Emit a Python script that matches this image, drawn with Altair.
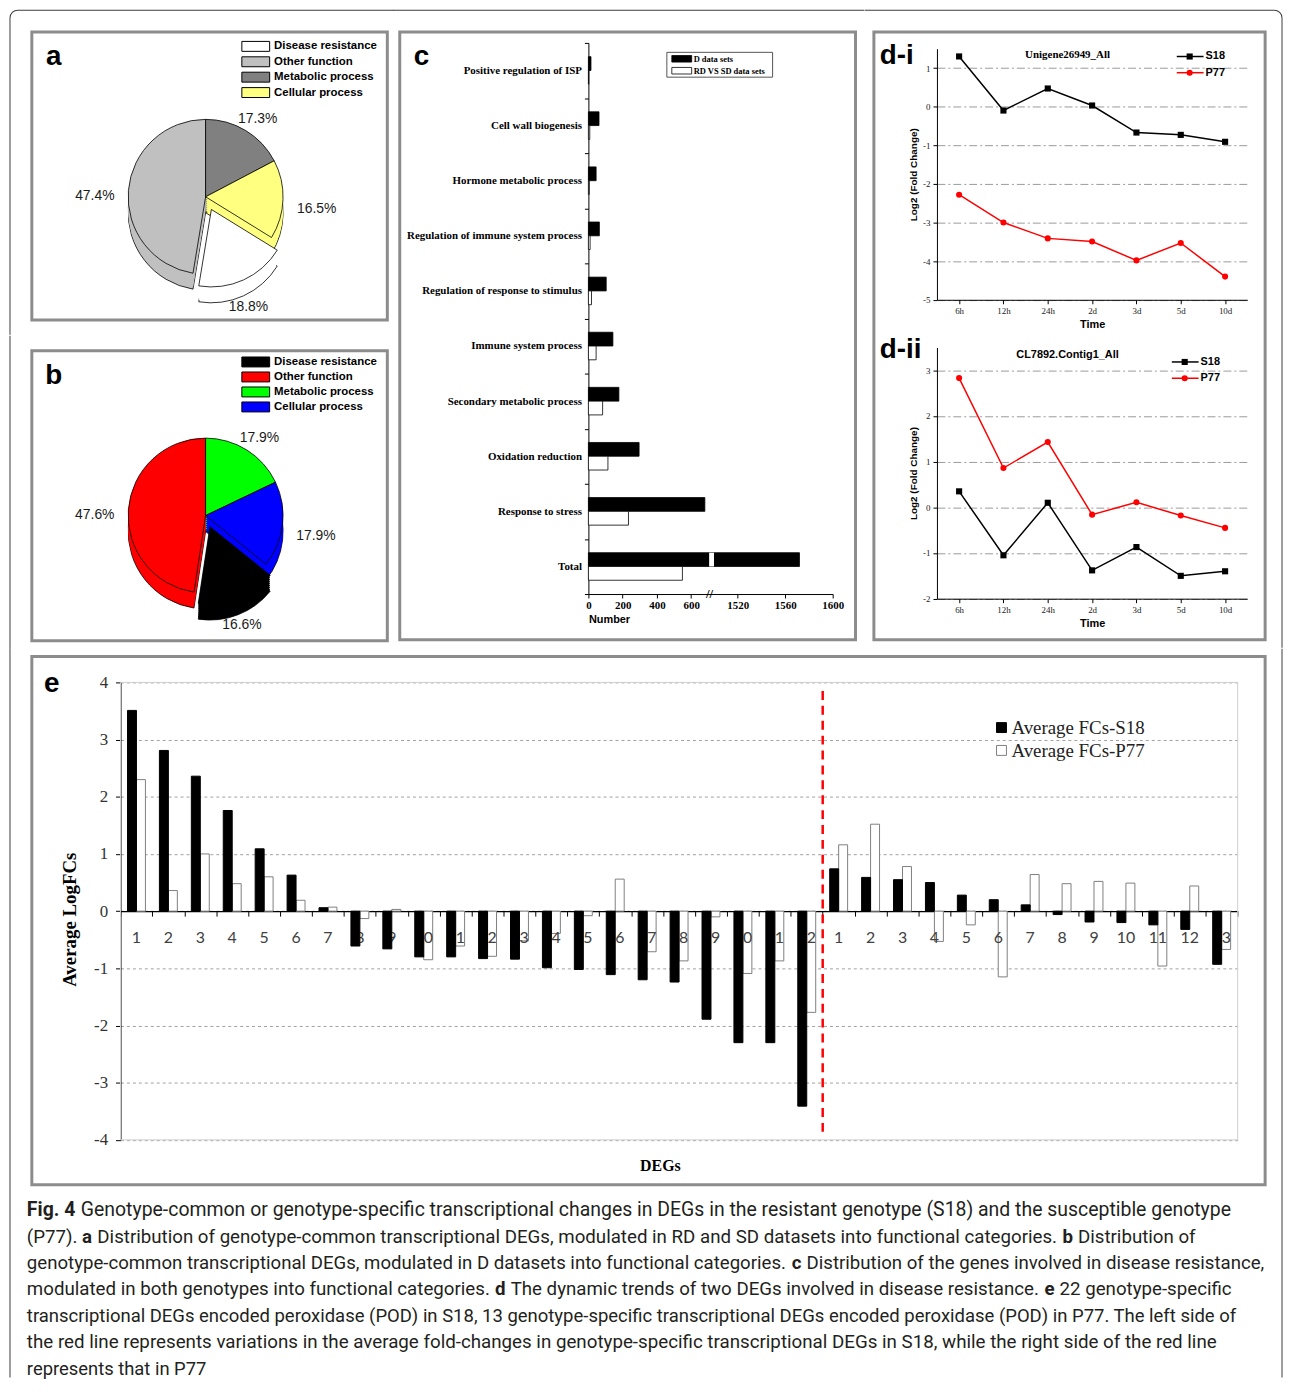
import math
import altair as alt
import pandas as pd

# ======================= DATA =======================
pie_categories = ["Disease resistance", "Other function", "Metabolic process", "Cellular process"]
pie_clockwise = ["Metabolic process", "Cellular process", "Disease resistance", "Other function"]
exploded_category = "Disease resistance"
pie_a_values = [18.8, 47.4, 17.3, 16.5]
pie_a_colors = ["#ffffff", "#c0c0c0", "#808080", "#ffff80"]
pie_b_values = [16.6, 47.6, 17.9, 17.9]
pie_b_colors = ["#000000", "#ff0000", "#00ff00", "#0000ff"]

c_categories = ["Positive regulation of ISP", "Cell wall biogenesis", "Hormone metabolic process",
                "Regulation of immune system process", "Regulation of response to stimulus",
                "Immune system process", "Secondary metabolic process", "Oxidation reduction",
                "Response to stress", "Total"]
c_series = ["D data sets", "RD VS SD data sets"]
c_d_values = [15, 62, 45, 64, 104, 143, 178, 296, 680, 1572]
c_rdsd_values = [2, 8, 5, 10, 18, 45, 83, 114, 234, 549]
c_tick_values = [0, 200, 400, 600, 1520, 1560, 1600]

d_times = ["6h", "12h", "24h", "2d", "3d", "5d", "10d"]
d_series = ["S18", "P77"]
di_title = "Unigene26949_All"
di_s18 = [1.30, -0.10, 0.47, 0.03, -0.67, -0.73, -0.91]
di_p77 = [-2.28, -3.00, -3.41, -3.49, -3.98, -3.53, -4.40]
dii_title = "CL7892.Contig1_All"
dii_s18 = [0.35, -1.05, 0.10, -1.38, -0.87, -1.50, -1.40]
dii_p77 = [2.83, 0.86, 1.43, -0.16, 0.11, -0.18, -0.45]

e_series = ["Average FCs-S18", "Average FCs-P77"]
e_s18_genes = [str(i) for i in range(1, 23)]
e_p77_genes = [str(i) for i in range(1, 14)]
e_s18 = [3.51, 2.81, 2.36, 1.76, 1.09, 0.63, 0.06, -0.61, -0.66, -0.80, -0.80, -0.83, -0.84,
         -0.99, -1.02, -1.11, -1.20, -1.24, -1.89, -2.30, -2.30, -3.41,
         0.74, 0.59, 0.55, 0.50, 0.28, 0.20, 0.11, -0.06, -0.19, -0.20, -0.24, -0.32, -0.93]
e_p77 = [2.30, 0.36, 1.00, 0.48, 0.60, 0.19, 0.07, -0.13, 0.03, -0.85, -0.61, -0.79, -0.52,
         -0.39, -0.08, 0.56, -0.71, -0.87, -0.10, -1.09, -0.87, -1.77,
         1.16, 1.52, 0.78, -0.53, -0.24, -1.15, 0.64, 0.48, 0.52, 0.49, -0.96, 0.44, -0.67]

caption_lines = [
    [("Fig. 4", True), ("Genotype-common or genotype-specific transcriptional changes in DEGs in the resistant genotype (S18) and the susceptible genotype", False)],
    [("(P77).", False), ("a", True), ("Distribution of genotype-common transcriptional DEGs, modulated in RD and SD datasets into functional categories.", False), ("b", True), ("Distribution of", False)],
    [("genotype-common transcriptional DEGs, modulated in D datasets into functional categories.", False), ("c", True), ("Distribution of the genes involved in disease resistance,", False)],
    [("modulated in both genotypes into functional categories.", False), ("d", True), ("The dynamic trends of two DEGs involved in disease resistance.", False), ("e", True), ("22 genotype-specific", False)],
    [("transcriptional DEGs encoded peroxidase (POD) in S18, 13 genotype-specific transcriptional DEGs encoded peroxidase (POD) in P77. The left side of", False)],
    [("the red line represents variations in the average fold-changes in genotype-specific transcriptional DEGs in S18, while the right side of the red line", False)],
    [("represents that in P77", False)],
]

# ======================= LAYOUT / STYLE =======================
SERIF = "Liberation Serif"
SANS = "Liberation Sans"
CAPTION_FONT = "Roboto"
FRAME_COLOR = "#8c8c8c"
BORDER = "#3c3c3c"
ONE = pd.DataFrame({"k": [0]})

A_BOX = (30, 32, 358, 290)
B_BOX = (30, 352, 358, 292)
C_BOX = (401, 32, 459, 612)
D_BOX = (878, 32, 394, 612)
E_BOX = (30, 660, 1242, 532)
OL, OT, OR, OB, RAD = 8, 10, 1289, 1386, 8
caption_left = 25
caption_right = [1239, 1202, 1272, 1239, 1246, 1226, 206]
caption_y0, caption_dy = 1217.5, 26.6
PI = math.pi

# approximate advance widths of Roboto (em units), used to chain caption segments
RW = {' ': 0.248, 'a': 0.544, 'b': 0.561, 'c': 0.523, 'd': 0.564, 'e': 0.530, 'f': 0.347, 'g': 0.561,
      'h': 0.551, 'i': 0.243, 'j': 0.239, 'k': 0.507, 'l': 0.243, 'm': 0.876, 'n': 0.552, 'o': 0.570,
      'p': 0.561, 'q': 0.568, 'r': 0.338, 's': 0.516, 't': 0.327, 'u': 0.551, 'v': 0.484, 'w': 0.751,
      'x': 0.496, 'y': 0.473, 'z': 0.496, 'A': 0.652, 'B': 0.623, 'C': 0.651, 'D': 0.656, 'E': 0.568,
      'F': 0.553, 'G': 0.681, 'H': 0.713, 'I': 0.272, 'L': 0.537, 'M': 0.873, 'N': 0.713, 'O': 0.687,
      'P': 0.631, 'R': 0.616, 'S': 0.594, 'T': 0.596, '(': 0.342, ')': 0.348, '.': 0.263, ',': 0.196,
      '-': 0.276}
for _d in "0123456789":
    RW[_d] = 0.561


def em_width(s, bold=False):
    return sum(RW.get(ch, 0.55) for ch in s) * (1.04 if bold else 1.0)


def rect_px(box, x1, y1, x2, y2, fill, stroke=None, sw=1.0):
    kw = dict(fill=fill)
    if stroke:
        kw.update(stroke=stroke, strokeWidth=sw)
    else:
        kw.update(strokeWidth=0)
    return alt.Chart(ONE).mark_rect(**kw).encode(
        x=alt.value(x1 - box[0]), x2=alt.value(x2 - box[0]),
        y=alt.value(y1 - box[1]), y2=alt.value(y2 - box[1]))


def seg_px(box, x1, y1, x2, y2, color=BORDER, width=1.0):
    """thin straight line drawn as a filled rect (page coordinates)"""
    h = width / 2
    if y1 == y2:
        return rect_px(box, x1, y1 - h, x2, y1 + h, color)
    return rect_px(box, x1 - h, y1, x1 + h, y2, color)


def corner_px(box, cx, cy, t0, t1):
    return alt.Chart(ONE).mark_arc(innerRadius=RAD - 0.5, outerRadius=RAD + 0.5, theta=t0, theta2=t1,
                                   color=BORDER).encode(x=alt.value(cx - box[0]), y=alt.value(cy - box[1]))


def text_px(box, txt, x, y, size, font=SANS, weight="normal", align="left", angle=0, color="black",
            baseline="middle"):
    kw = dict(font=font, fontSize=size, fontWeight=weight, align=align, baseline=baseline, color=color)
    if angle:
        kw["angle"] = angle
    return alt.Chart(pd.DataFrame({"t": [txt]})).mark_text(**kw).encode(
        text="t:N", x=alt.value(x - box[0]), y=alt.value(y - box[1]))


# ======================= PANELS a / b =======================
def pie_panel(values, colors, box, letter, explode, legend_y0, legend_dy, extra):
    ox, oy, W, H = box
    R, DEPTH = 78, 16
    cx, cy = 205 - ox, 166
    cum = 0.0
    mid = 0.0
    for cat in pie_clockwise:
        v = values[pie_categories.index(cat)]
        if cat == exploded_category:
            mid = cum + v / 2
        cum += v
    ang = 2 * PI * mid / 100
    ex, ey = explode * math.sin(ang), -explode * math.cos(ang)

    df = pd.DataFrame({"category": pie_categories, "value": values,
                       "rank": [pie_clockwise.index(c) for c in pie_categories]})
    base = alt.Chart(df).transform_window(
        cum="sum(value)", sort=[alt.SortField("rank", order="ascending")], frame=[None, 0]
    ).transform_calculate(
        start="datum.cum - datum.value",
        mid="datum.cum - datum.value / 2",
        label="format(datum.value, '.1f') + '%'",
        lr=f"{R + 12} + 22 * abs(sin(2 * PI * (datum.cum - datum.value / 2) / 100))",
    ).transform_calculate(lr2="datum.lr - 9")
    tscale = alt.Scale(domain=[0, 100], range=[0, 2 * PI])
    theta = alt.Theta("start:Q", stack=None, scale=tscale)
    theta2 = alt.Theta2("cum:Q")
    color = alt.Color("category:N", scale=alt.Scale(domain=pie_categories, range=colors), legend=None)
    main = base.transform_filter(alt.datum.category != exploded_category)
    expl = base.transform_filter(alt.datum.category == exploded_category)
    layers = []
    for src, dx, dy in [(main, 0, 0), (expl, ex, ey)]:
        for k in range(DEPTH, -1, -2):
            kw = dict(radius=R)
            if k == DEPTH or k == 0:
                kw.update(stroke="black", strokeWidth=0.8)
            else:
                kw.update(strokeWidth=0)
            layers.append(src.mark_arc(**kw).encode(theta=theta, theta2=theta2, color=color,
                                                    x=alt.value(cx + dx), y=alt.value(cy + dy + k)))
    lt = alt.Theta("mid:Q", stack=None, scale=tscale)
    layers.append(main.mark_text(font=SANS, fontSize=14, color="#1a1a1a").encode(
        theta=lt, radius=alt.Radius("lr:Q", scale=None), text="label:N",
        x=alt.value(cx), y=alt.value(cy + DEPTH / 2)))
    layers.append(expl.mark_text(font=SANS, fontSize=14, color="#1a1a1a").encode(
        theta=lt, radius=alt.Radius("lr2:Q", scale=None), text="label:N",
        x=alt.value(cx + ex), y=alt.value(cy + ey + DEPTH)))
    # legend (drawn by hand so that the rows are as tight as in the figure)
    for i, (cat, col) in enumerate(zip(pie_categories, colors)):
        yy = legend_y0 + legend_dy * i
        layers.append(rect_px(box, 241.5, yy - 5, 269.5, yy + 5, col, stroke="black", sw=1))
        layers.append(text_px(box, cat, 274, yy, 11.5, weight="bold"))
    layers.append(text_px(box, letter, 52, oy + 25, 28, weight="bold", align="center"))
    layers.extend(extra)
    return alt.layer(*layers).properties(width=W, height=H)


a_extra = [corner_px(A_BOX, OL + RAD, OT + RAD, 1.5 * PI, 2 * PI),
           seg_px(A_BOX, OL + RAD, OT, 394.5, OT),
           seg_px(A_BOX, OL, OT + RAD, OL, 337)]
b_extra = [seg_px(B_BOX, OL, 337, OL, 652)]
a_chart = pie_panel(pie_a_values, pie_a_colors, A_BOX, "a", 14, 46.5, 15.5, a_extra)
b_chart = pie_panel(pie_b_values, pie_b_colors, B_BOX, "b", 12, 363.3, 15.1, b_extra)

# ======================= PANEL c =======================
def panel_c():
    ox, oy, W, H = C_BOX
    n = len(c_categories)
    df = pd.DataFrame({"category": c_categories * 2,
                       "series": [c_series[0]] * n + [c_series[1]] * n,
                       "value": c_d_values + c_rdsd_values})
    y_top, y_bot = 43 - oy, 598 - oy
    x0 = 591 - ox
    brk_lo, brk_hi = 715, 1500
    x_scale = alt.Scale(domain=[0, brk_lo, brk_hi, 1600], range=[x0, x0 + 123.3, x0 + 126.5, 837 - ox],
                        nice=False, zero=False)
    x_axis = alt.Axis(orient="bottom", offset=-(H - y_bot), values=c_tick_values, format="d", labelFlush=False,
                      labelFont=SERIF, labelFontWeight="bold", labelFontSize=11, labelColor="black",
                      labelPadding=2, tickSize=4, domainColor="black", tickColor="black", grid=False,
                      title="Number", titleFont=SANS, titleFontSize=11, titleFontWeight="bold",
                      titleAnchor="start", titlePadding=3, titleColor="black")
    y = alt.Y("category:N", sort=c_categories,
              scale=alt.Scale(range=[y_top, y_bot], paddingInner=0, paddingOuter=0),
              axis=alt.Axis(orient="left", offset=-x0, title=None, tickBand="extent", tickSize=4,
                            labelPadding=3, labelFont=SERIF, labelFontWeight="bold", labelFontSize=11,
                            labelColor="black", labelLimit=400, domainColor="black", tickColor="black",
                            grid=False))
    yo = alt.YOffset("series:N", sort=c_series,
                     scale=alt.Scale(domain=c_series, paddingInner=0, paddingOuter=1.0))
    fill = alt.Fill("series:N", scale=alt.Scale(domain=c_series, range=["black", "white"]), legend=None)
    bars = alt.Chart(df).mark_bar(stroke="black", strokeWidth=0.8).encode(
        x=alt.X("value:Q", stack=None, scale=x_scale, axis=x_axis), y=y, yOffset=yo, fill=fill)
    gap_df = pd.DataFrame({"category": ["Total"], "series": [c_series[0]], "lo": [705], "hi": [brk_hi]})
    gap = alt.Chart(gap_df).mark_rect(fill="white").encode(
        x=alt.X("lo:Q", scale=x_scale, axis=x_axis), x2="hi:Q", y=y, yOffset=yo)
    brk = text_px(C_BOX, "//", 713, 598, 13, font=SERIF, weight="bold", align="center")
    layers = [bars, gap, brk,
              rect_px(C_BOX, 670, 52.5, 776.5, 77.5, "white", stroke="#555555", sw=1),
              rect_px(C_BOX, 675, 55.7, 695, 62.3, "black", stroke="black", sw=0.8),
              rect_px(C_BOX, 675, 67.7, 695, 74.3, "white", stroke="black", sw=0.8),
              text_px(C_BOX, c_series[0], 697, 59, 8.5, font=SERIF, weight="bold"),
              text_px(C_BOX, c_series[1], 697, 71, 8.5, font=SERIF, weight="bold"),
              text_px(C_BOX, "c", 423, 57, 28, weight="bold", align="center"),
              seg_px(C_BOX, 394.5, OT, 869, OT)]
    return alt.layer(*layers).properties(width=W, height=H)


c_chart = panel_c()

# ======================= PANEL d =======================
def panel_d():
    ox, oy, W, H = D_BOX
    xl, xr = 941.5 - ox, 1254 - ox
    subs = []
    specs = [(di_s18, di_p77, (-5, 1.5), 301.7, 38.9), (dii_s18, dii_p77, (-2, 3.5), 602.7, 46.0)]
    for s18, p77, dom, ybot_page, unit in specs:
        df = pd.DataFrame({"time": d_times * 2, "idx": list(range(len(d_times))) * 2,
                           "series": [d_series[0]] * len(d_times) + [d_series[1]] * len(d_times),
                           "value": s18 + p77})
        ybot = ybot_page - oy
        ytop = ybot - (dom[1] - dom[0]) * unit
        x = alt.X("time:N", sort=d_times, scale=alt.Scale(type="point", range=[xl, xr], padding=0.5),
                  axis=alt.Axis(orient="bottom", offset=-(H - ybot), title="Time", labelAngle=0,
                                labelFont=SERIF, labelFontSize=9, labelColor="#222222", labelPadding=3,
                                tickSize=4, tickColor="black", domainColor="black", grid=False,
                                titleFont=SANS, titleFontSize=11, titleFontWeight="bold", titleColor="black",
                                titlePadding=3))
        y = alt.Y("value:Q", scale=alt.Scale(domain=list(dom), range=[ybot, ytop], nice=False, zero=False),
                  axis=alt.Axis(orient="left", offset=-xl,
                                values=list(range(int(dom[0]), int(math.floor(dom[1])) + 1)),
                                labelExpr="'' + datum.value", grid=True, gridDash=[8, 3, 2, 3],
                                gridColor="#9a9a9a", labelFont=SERIF, labelFontSize=9, labelColor="#222222",
                                labelPadding=3, tickSize=4, tickColor="black", domainColor="black",
                                title="Log2 (Fold Change)", titleFont=SANS, titleFontSize=10,
                                titleFontWeight="bold", titleColor="black", titlePadding=4))
        color = alt.Color("series:N", scale=alt.Scale(domain=d_series, range=["black", "#ff0000"]), legend=None)
        line = alt.Chart(df).mark_line(strokeWidth=1.5).encode(x=x, y=y, color=color, order="idx:Q")
        pts = alt.Chart(df).mark_point(filled=True, size=38, opacity=1).encode(
            x=x, y=y, color=color,
            shape=alt.Shape("series:N", scale=alt.Scale(domain=d_series, range=["square", "circle"]), legend=None))
        subs.append(alt.layer(line, pts))

    deco = []
    leg_specs = [(56.7, 1183, 1210, 1196, 1212), (73.0, 1183, 1210, 1196, 1212),
                 (364.3, 1178, 1205, 1191, 1207), (380.7, 1178, 1205, 1191, 1207)]
    leg_series = [d_series[0], d_series[1], d_series[0], d_series[1]]
    leg_colors = {"S18": "black", "P77": "#ff0000"}
    leg_shapes = {"S18": "square", "P77": "circle"}
    for (yy, x1, x2, xm, xt), s in zip(leg_specs, leg_series):
        deco.append(seg_px(D_BOX, x1, yy, x2, yy, color=leg_colors[s], width=1.5))
        deco.append(alt.Chart(ONE).mark_point(filled=True, size=38, opacity=1, shape=leg_shapes[s],
                                              color=leg_colors[s]).encode(
            x=alt.value(xm - ox), y=alt.value(yy - oy)))
        deco.append(text_px(D_BOX, s, xt, yy, 11, weight="bold"))
    deco.append(text_px(D_BOX, di_title, 1073, 55, 11, font=SERIF, weight="bold", align="center"))
    deco.append(text_px(D_BOX, dii_title, 1073, 357, 11, font=SANS, weight="bold", align="center"))
    deco.append(text_px(D_BOX, "d-i", 884, 56, 28, weight="bold"))
    deco.append(text_px(D_BOX, "d-ii", 884, 352, 28, weight="bold"))
    deco.append(seg_px(D_BOX, 869, OT, OR - RAD, OT))
    deco.append(corner_px(D_BOX, OR - RAD, OT + RAD, 0, 0.5 * PI))
    deco.append(seg_px(D_BOX, OR, OT + RAD, OR, 652))
    return alt.layer(*subs, *deco).resolve_scale(x="independent", y="independent").properties(width=W, height=H)


d_chart = panel_d()

# ======================= PANEL e (+ caption) =======================
def panel_e():
    ox, oy, W, H = E_BOX
    keys = [f"S{g}" for g in e_s18_genes] + [f"P{g}" for g in e_p77_genes]
    labels = e_s18_genes + e_p77_genes
    n = len(keys)
    df = pd.DataFrame({"key": keys * 2, "label": labels * 2,
                       "series": [e_series[0]] * n + [e_series[1]] * n,
                       "value": e_s18 + e_p77})
    xl, xr = 119.3 - ox, 1244.3 - ox
    ytop, ybot = 686 - oy, 1146.7 - oy
    y0 = ybot + (0 - (-4)) / 8 * (ytop - ybot)
    x_axis = alt.Axis(orient="bottom", offset=-(H - y0), labels=False, title=None, tickBand="extent",
                      tickSize=5, tickColor="black", domainColor="black", domainWidth=1.3, grid=False)
    y_axis = alt.Axis(orient="left", offset=-xl, values=list(range(-4, 5)), labelExpr="'' + datum.value",
                      grid=True, gridDash=[3, 3], gridColor="#a0a0a0", tickSize=5, tickColor="black",
                      domainColor="black", labelFont=SERIF, labelFontSize=17, labelColor="#333333",
                      labelPadding=8, title=None)
    x_scale = alt.Scale(range=[xl, xr], paddingInner=0, paddingOuter=0)
    y_scale = alt.Scale(domain=[-4, 4], range=[ybot, ytop], nice=False, zero=False)

    def xenc(**kw):
        return alt.X("key:N", sort=keys, scale=x_scale, axis=x_axis, **kw)

    xo = alt.XOffset("series:N", sort=e_series,
                     scale=alt.Scale(domain=e_series, paddingInner=0, paddingOuter=0.78))
    fill = alt.Fill("series:N", scale=alt.Scale(domain=e_series, range=["black", "white"]), legend=None)
    stroke = alt.Stroke("series:N", scale=alt.Scale(domain=e_series, range=["black", "#7f7f7f"]), legend=None)
    y = alt.Y("value:Q", stack=None, scale=y_scale, axis=y_axis)

    white = alt.Chart(df).transform_filter(alt.datum.series == e_series[1]).mark_bar(strokeWidth=1).encode(
        x=xenc(), xOffset=xo, y=y, fill=fill, stroke=stroke)
    black = alt.Chart(df).transform_filter(alt.datum.series == e_series[0]).mark_bar(strokeWidth=1).encode(
        x=xenc(), xOffset=xo, y=y, fill=fill, stroke=stroke)
    lab = alt.Chart(df).transform_filter(alt.datum.series == e_series[0]).mark_text(
        font="Lato", fontSize=16, color="#404040", dy=27, baseline="middle").encode(
        x=xenc(), y=alt.Y(datum=0, scale=y_scale, axis=y_axis), text="label:N")
    red = alt.Chart(pd.DataFrame({"key": [f"P{e_p77_genes[0]}"]})).mark_rule(
        color="#ff0000", strokeWidth=2.5, strokeDash=[9, 6]).encode(
        x=xenc(bandPosition=0), y=alt.Y(datum=3.85, scale=y_scale, axis=y_axis), y2=alt.Y2(datum=-3.9))
    border = alt.Chart(ONE).mark_rect(fill="transparent", stroke="#d0d0d0", strokeWidth=1).encode(
        x=alt.value(xl), x2=alt.value(xr), y=alt.value(ytop), y2=alt.value(ybot))

    layers = [border, white, lab, black, red,
              rect_px(E_BOX, 1001.5, 726.5, 1011.5, 736.5, "black", stroke="black", sw=1),
              rect_px(E_BOX, 1001.5, 749.5, 1011.5, 759.5, "white", stroke="#7f7f7f", sw=1),
              text_px(E_BOX, e_series[0], 1016.5, 732, 19, font=SERIF, color="#222222"),
              text_px(E_BOX, e_series[1], 1016.5, 755, 19, font=SERIF, color="#222222"),
              text_px(E_BOX, "e", 50, 688, 28, weight="bold", align="center"),
              text_px(E_BOX, "DEGs", 663, 1173, 16, font=SERIF, weight="bold", align="center"),
              text_px(E_BOX, "Average LogFCs", 68, 925, 19, font=SERIF, weight="bold", align="center", angle=270),
              seg_px(E_BOX, OL, 652, OL, OB),
              seg_px(E_BOX, OR, 652, OR, OB)]
    # caption: segments chained left to right, size fitted to each line's extent in the reference
    for li, segs in enumerate(caption_lines):
        yy = caption_y0 + caption_dy * li
        total_em = sum(em_width(t, b) for t, b in segs) + RW[' '] * (len(segs) - 1)
        size = max(17.5, min(20.5, (caption_right[li] - caption_left) / total_em))
        xx = caption_left
        for txt, bold in segs:
            layers.append(text_px(E_BOX, txt, xx, yy, round(size, 2), font=CAPTION_FONT,
                                  weight="bold" if bold else "normal", color="#231f20"))
            xx += (em_width(txt, bold) + RW[' ']) * size
    return alt.layer(*layers).properties(width=W, height=H)


e_chart = panel_e()

# ======================= ASSEMBLY =======================
# spacings compensate the small extra extents Vega adds around each cell
RES = dict(color="independent", fill="independent", stroke="independent", shape="independent")
ab = alt.vconcat(a_chart, b_chart, spacing=-3).resolve_scale(**RES)
top = alt.hconcat(ab, c_chart, d_chart, spacing=-3.5).resolve_scale(**RES)
chart = alt.vconcat(top, e_chart, spacing=-4).resolve_scale(**RES).properties(
    padding={"left": 0, "top": -4.7, "right": 0, "bottom": 0}
).configure_view(stroke=FRAME_COLOR, strokeWidth=3)

chart.save("out.html", embed_options={"renderer": "svg", "actions": False})
